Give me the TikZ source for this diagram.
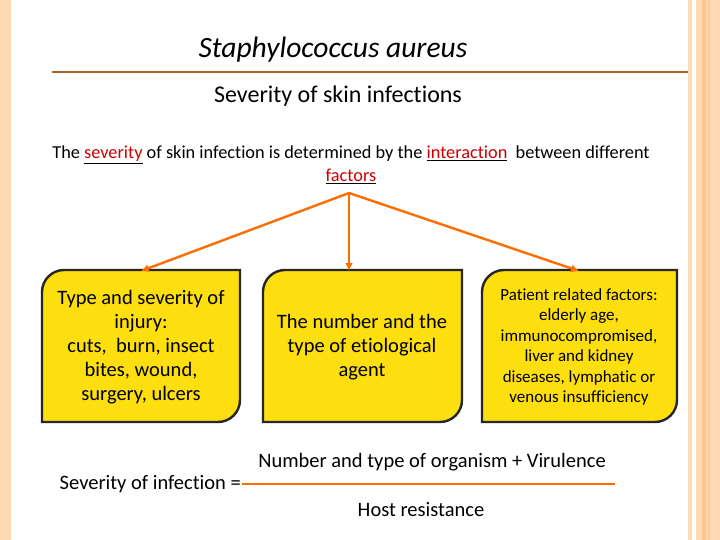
\documentclass[tikz,border=0pt]{standalone}
\usepackage{fontspec}
\setmainfont[Ligatures=NoCommon]{Carlito}
\usetikzlibrary{arrows.meta}
\begin{document}
\begin{tikzpicture}[x=1pt,y=-1pt,
 fb/.style={fill=yellow!80!orange!95!white,draw=black!85,line width=2.4pt},
 arr/.style={draw=orange!85!red,line width=2.4pt,-{Latex[length=8pt,width=8pt]}},
 big/.style={font=\fontsize{20.5}{24}\selectfont,align=center},
 sm/.style={font=\fontsize{17}{20.4}\selectfont,align=center}]
\useasboundingbox (0,0) rectangle (720,540);
\fill[white] (0,0) rectangle (720,540);
\fill[orange!30!white] (0,0) rectangle (11,540);
\fill[orange!30!white] (688,0) rectangle (692,540);
\fill[orange!30!white] (696,0) rectangle (720,540);
\fill[orange!45!white] (702,0) rectangle (706,540);
\fill[orange!40!white] (708,0) rectangle (710,540);
\draw[line width=2pt,draw=orange!60!black!85] (52,72) -- (688,72);
\node[font=\fontsize{29.5}{34}\selectfont\itshape] (t) at (333,50) {Staphylococcus aureus};
\node[font=\fontsize{24}{28}\selectfont] (s) at (338,96) {Severity of skin infections};
\node[align=center,font=\fontsize{18.3}{23}\selectfont] (h) at (351,165) {The \underline{\textcolor{red!80!black}{severity}} of skin infection is determined by the \underline{\textcolor{red!80!black}{interaction}}\ \ between different\\ \underline{\textcolor{red!80!black}{factors}}};
\coordinate (o) at (349,193);
\foreach \xa/\xb in {42/240,263/462,482/677}{
 \path[fb] (\xa,346) [rounded corners=22pt]-- (\xa,270) [sharp corners]-- (\xb,270) [rounded corners=22pt]-- (\xb,422) [sharp corners]-- (\xa,422) -- cycle;}
\node[big] (a) at (141,347) {Type and severity of\\ injury:\\ cuts,\ \ burn, insect\\ bites, wound,\\ surgery, ulcers};
\node[big] (b) at (362,347) {The number and the\\ type of etiological\\ agent};
\node[sm] (c) at (579,347) {Patient related factors:\\ elderly age,\\ immunocompromised,\\ liver and kidney\\ diseases, lymphatic or\\ venous insufficiency};
\coordinate (ta) at (141,271);
\coordinate (tb) at (349,271);
\coordinate (tc) at (579,271);
\draw[arr] (o) -- (ta);
\draw[arr] (o) -- (tb);
\draw[arr] (o) -- (tc);
\node[anchor=east,font=\fontsize{20.5}{24}\selectfont,inner sep=1pt] (l) at (242,484) {Severity of infection =};
\draw[line width=2.2pt,draw=orange!85!red] (l.east) -- (615,484);
\node[font=\fontsize{20.5}{24}\selectfont] (n) at (432,462) {Number and type of organism + Virulence};
\node[font=\fontsize{20.5}{24}\selectfont] (d) at (421,510) {Host resistance};
\end{tikzpicture}
\end{document}
